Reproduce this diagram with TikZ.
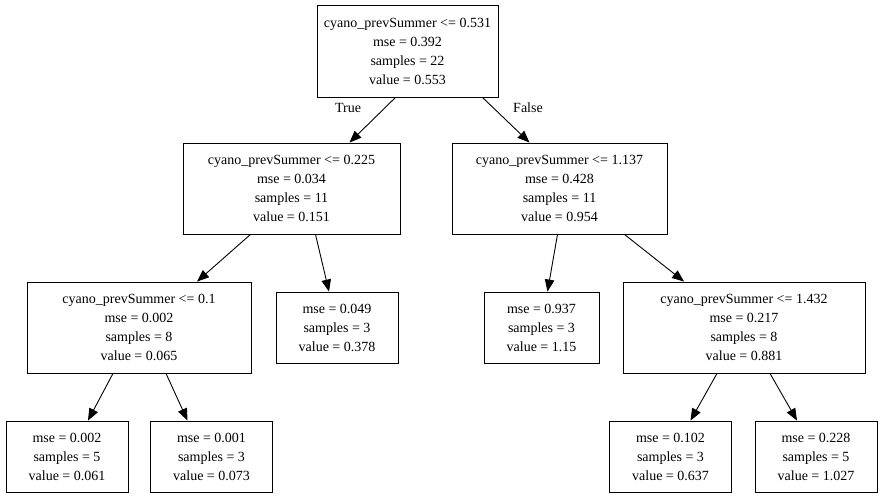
\documentclass[tikz,border=0pt]{standalone}
\usepackage{fontspec}
\setmainfont{Liberation Serif}
\usetikzlibrary{arrows.meta,calc,positioning}

\tikzset{
  treenode/.style={draw=black, line width=0.9pt, rectangle, align=center, inner sep=0pt,
    font=\fontsize{14}{19}\selectfont},
  treeedge/.style={black, line width=0.9pt, -{Triangle[length=12pt,width=9.5pt]}},
}

\begin{document}
\begin{tikzpicture}[x=1pt,y=-1pt]
% ==========================================
\useasboundingbox (0,0) rectangle (884,497);
%
\node[treenode, minimum width=181pt, minimum height=92pt] (root) at (407.5,51) {cyano\_prevSummer <= 0.531\\mse = 0.392\\samples = 22\\value = 0.553};
%
\node[treenode, minimum width=217pt, minimum height=91pt] (l) at (291.5,188.5) {cyano\_prevSummer <= 0.225\\mse = 0.034\\samples = 11\\value = 0.151};
\node[treenode, minimum width=215pt, minimum height=91pt] (r) at (559.5,188.5) {cyano\_prevSummer <= 1.137\\mse = 0.428\\samples = 11\\value = 0.954};
%
\node[treenode, minimum width=224pt, minimum height=91pt] (ll) at (139,327.5) {cyano\_prevSummer <= 0.1\\mse = 0.002\\samples = 8\\value = 0.065};
\node[treenode, minimum width=122pt, minimum height=71pt] (lr) at (337,327.5) {mse = 0.049\\samples = 3\\value = 0.378};
\node[treenode, minimum width=115pt, minimum height=71pt] (rl) at (541.5,327.5) {mse = 0.937\\samples = 3\\value = 1.15};
\node[treenode, minimum width=242pt, minimum height=91pt] (rr) at (744,327.5) {cyano\_prevSummer <= 1.432\\mse = 0.217\\samples = 8\\value = 0.881};
%
\node[treenode, minimum width=122pt, minimum height=71pt] (lla) at (67,456.5) {mse = 0.002\\samples = 5\\value = 0.061};
\node[treenode, minimum width=122pt, minimum height=71pt] (llb) at (211.5,456.5) {mse = 0.001\\samples = 3\\value = 0.073};
\node[treenode, minimum width=122pt, minimum height=71pt] (rra) at (670.5,456.5) {mse = 0.102\\samples = 3\\value = 0.637};
\node[treenode, minimum width=122pt, minimum height=71pt] (rrb) at (816,456.5) {mse = 0.228\\samples = 5\\value = 1.027};
%
\draw[treeedge] ($(root.south)+(-12,0)$) -- ($(l.north)+(58,0)$);
\draw[treeedge] ($(root.south)+(75,0)$) -- ($(r.north)+(-30,0)$);
\node[font=\fontsize{14}{19}\selectfont] (truelabel) at (348,108) {True};
\node[font=\fontsize{14}{19}\selectfont] (falselabel) at (528,108) {False};
%
\draw[treeedge] ($(l.south)+(-41,0)$) -- ($(ll.north)+(58,0)$);
\draw[treeedge] ($(l.south)+(24,0)$) -- ($(lr.north)+(-8,0)$);
\draw[treeedge] ($(r.south)+(-2,0)$) -- ($(rl.north)+(6,0)$);
\draw[treeedge] ($(r.south)+(65,0)$) -- ($(rr.north)+(-60,0)$);
%
\draw[treeedge] ($(ll.south)+(-26,0)$) -- ($(lla.north)+(21,0)$);
\draw[treeedge] ($(ll.south)+(27,0)$) -- ($(llb.north)+(-24,0)$);
\draw[treeedge] ($(rr.south)+(-27,0)$) -- ($(rra.north)+(20,0)$);
\draw[treeedge] ($(rr.south)+(26,0)$) -- ($(rrb.north)+(-19,0)$);
% =============================================
\end{tikzpicture}
\end{document}
